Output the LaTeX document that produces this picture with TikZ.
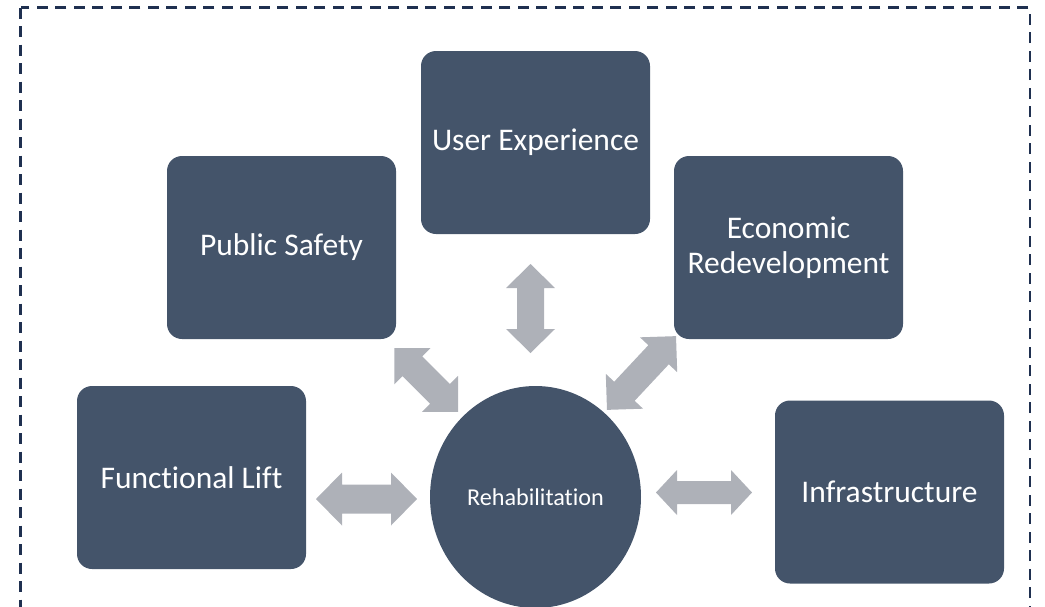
\documentclass[tikz,border=0pt]{standalone}
\usepackage{fontspec}
\setmainfont{Carlito}[Ligatures={NoCommon}]
\usetikzlibrary{shapes.geometric}
\definecolor{boxc}{HTML}{44546A}
\definecolor{arrc}{HTML}{AEB1B8}
\definecolor{framec}{HTML}{1F3050}
\tikzset{
  card/.style={fill=boxc, draw=none, rounded corners=15pt, minimum width=229pt, minimum height=183pt,
    text=white, align=center, font=\fontsize{31.5}{35}\selectfont, inner sep=0pt},
  hub/.style={ellipse, fill=boxc, draw=none, minimum width=211pt, minimum height=222pt,
    text=white, font=\fontsize{24.2}{28}\selectfont, inner sep=0pt},
  frame/.style={draw=framec, line width=2.7pt, dash pattern=on 11pt off 7.5pt},
  blockarr/.style={fill=arrc, draw=none}
}
% #1 name, #2 center, #3 angle, #4 length, #5 shaft half, #6 head half, #7 head length
\newcommand\blockarrow[7]{%
  \begin{scope}[shift={#2}, rotate=#3]
    \coordinate (#1) at (0,0);
    \fill[blockarr] (-#4/2,0) -- (-#4/2+#7,#6) -- (-#4/2+#7,#5) -- (#4/2-#7,#5) -- (#4/2-#7,#6)
      -- (#4/2,0) -- (#4/2-#7,-#6) -- (#4/2-#7,-#5) -- (-#4/2+#7,-#5) -- (-#4/2+#7,-#6) -- cycle;
  \end{scope}}
\begin{document}
\begin{tikzpicture}[x=1pt,y=-1pt]
\useasboundingbox (0,0) rectangle (1045,606);
\clip (0,0) rectangle (1045,606);
\draw[frame] (20.7,7.7) rectangle (1030,640);

\node[card] (ux) at (535.5,142.5) {User Experience};
\node[card] (ps) at (281.5,247.5) {Public Safety};
\node[card] (ec) at (788.5,247.5) {Economic\\Redevelopment};
\node[card] (fl) at (191.5,477.5) {Functional Lift};
\node[card] (inf) at (889.5,492) {Infrastructure};
\node[hub] (reh) at (535.5,497) {Rehabilitation};

\blockarrow{aux}{(530.5,308.5)}{90}{89}{13.5}{24.5}{24}
\blockarrow{aps}{(426.2,380)}{-45}{90}{14}{25.5}{25.5}
\blockarrow{aec}{(641.5,373)}{46.9}{101}{14}{25.5}{25.5}
\blockarrow{afl}{(366.5,499)}{0}{101}{14.5}{26.5}{26}
\blockarrow{ainf}{(704,492.5)}{0}{96}{11.5}{22.5}{21}
\end{tikzpicture}
\end{document}
